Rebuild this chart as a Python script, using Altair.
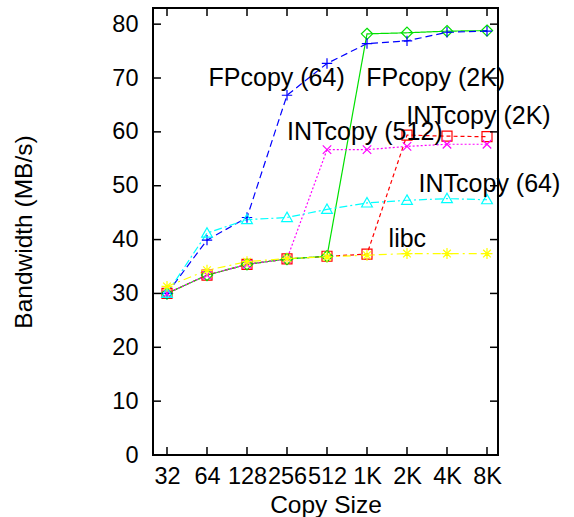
import json
import altair as alt
import pandas as pd

# ---- data ----
sizes = ["32", "64", "128", "256", "512", "1K", "2K", "4K", "8K"]
series = ["INTcopy (2K)", "FPcopy (2K)", "FPcopy (64)", "INTcopy (512)", "INTcopy (64)", "libc"]
int_2k = [30.0, 33.4, 35.4, 36.4, 36.9, 37.3, 59.4, 59.2, 59.1]
fp_2k = [30.0, 33.4, 35.4, 36.4, 36.9, 78.2, 78.4, 78.7, 78.8]
fp_64 = [30.0, 39.9, 44.1, 66.8, 72.7, 76.4, 76.9, 78.5, 78.7]
int_512 = [30.0, 33.4, 35.4, 36.4, 56.7, 56.7, 57.3, 57.7, 57.7]
int_64 = [30.0, 41.2, 43.7, 44.1, 45.6, 46.8, 47.3, 47.6, 47.4]
libc = [31.3, 34.3, 35.9, 36.5, 36.8, 37.1, 37.4, 37.4, 37.4]

label_text = ["FPcopy (64)", "FPcopy (2K)", "INTcopy (2K)", "INTcopy (512)", "INTcopy (64)", "libc"]
label_x = [1.04, 4.98, 5.98, 3.0, 6.29, 5.54]
label_y = [70.0, 70.0, 63.0, 60.0, 50.3, 40.1]

y_ticks = [0, 10, 20, 30, 40, 50, 60, 70, 80]

colors = ["#ff0000", "#00e000", "#0000ff", "#ff00ff", "#00ffff", "#ffff00"]
dashes = [[4, 3], [1, 0], [7, 4], [2, 2], [8, 3, 2, 3], [8, 4, 2, 4]]
shapes = [
    "M-1,-1L1,-1L1,1L-1,1Z",
    "M0,-1.1L1.1,0L0,1.1L-1.1,0Z",
    "M-1,0L1,0M0,-1L0,1",
    "M-0.8,-0.8L0.8,0.8M-0.8,0.8L0.8,-0.8",
    "M0,-1L1,0.75L-1,0.75Z",
    "M-1,0L1,0M0,-1L0,1M-0.7,-0.7L0.7,0.7M-0.7,0.7L0.7,-0.7",
]
marker_sizes = [100, 120, 150, 110, 110, 150]

vals = [int_2k, fp_2k, fp_64, int_512, int_64, libc]
rows = []
for si, (name, v) in enumerate(zip(series, vals)):
    for i, y in enumerate(v):
        rows.append({"series": name, "order": si, "idx": i, "bw": y})
df = pd.DataFrame(rows)

W, H = 345, 447
FONT = "Liberation Sans"

xscale = alt.Scale(domain=[-0.35, 8.275], nice=False, zero=False)
yscale = alt.Scale(domain=[0, 83], nice=False, zero=False)

label_expr = json.dumps(sizes) + "[datum.value]"

x_enc = alt.X(
    "idx:Q", scale=xscale,
    axis=alt.Axis(
        values=list(range(len(sizes))), labelExpr=label_expr, title="Copy Size",
        ticks=False, domain=False, grid=False, labelFont=FONT, labelFontSize=23.5,
        labelColor="black", labelBaseline="alphabetic", labelPadding=28,
        labelFlush=False, labelOverlap=False,
        titleFont=FONT, titleFontSize=24.5, titleFontWeight="normal", titleColor="black",
        titleBaseline="alphabetic", titleY=57,
    ),
)
y_enc = alt.Y(
    "bw:Q", scale=yscale,
    axis=alt.Axis(
        values=y_ticks, title="Bandwidth (MB/s)", ticks=False, domain=False, grid=False,
        labelFont=FONT, labelFontSize=23.5, labelColor="black", labelPadding=15,
        labelFlush=False, labelOverlap=False,
        titleFont=FONT, titleFontSize=24.5, titleFontWeight="normal", titleColor="black",
        titleAngle=270, titleBaseline="bottom", titleX=-117, titleY=H / 2,
    ),
)

color = alt.Color("series:N", scale=alt.Scale(domain=series, range=colors), legend=None)
dash = alt.StrokeDash("series:N", scale=alt.Scale(domain=series, range=dashes), legend=None)
shape = alt.Shape("series:N", scale=alt.Scale(domain=series, range=shapes), legend=None)
msize = alt.Size("series:N", scale=alt.Scale(domain=series, range=marker_sizes), legend=None)

base = alt.Chart(df)
lines = base.mark_line(strokeWidth=1.2).encode(
    x=x_enc, y=y_enc, color=color, strokeDash=dash, detail="series:N", order="idx:Q"
)
points = base.mark_point(filled=False, strokeWidth=1.2, opacity=1).encode(
    x=alt.X("idx:Q", scale=xscale), y=alt.Y("bw:Q", scale=yscale),
    color=color, shape=shape, size=msize,
)

ytick_df = pd.DataFrame({"v": y_ticks})
xtick_df = pd.DataFrame({"i": list(range(len(sizes)))})
tick_style = dict(color="black", strokeWidth=1.5)
ytl = alt.Chart(ytick_df).mark_rule(**tick_style).encode(
    y=alt.Y("v:Q", scale=yscale), x=alt.value(0), x2=alt.value(8))
ytr = alt.Chart(ytick_df).mark_rule(**tick_style).encode(
    y=alt.Y("v:Q", scale=yscale), x=alt.value(W - 8), x2=alt.value(W))
xtb = alt.Chart(xtick_df).mark_rule(**tick_style).encode(
    x=alt.X("i:Q", scale=xscale), y=alt.value(H - 8), y2=alt.value(H))
xtt = alt.Chart(xtick_df).mark_rule(**tick_style).encode(
    x=alt.X("i:Q", scale=xscale), y=alt.value(0), y2=alt.value(8))

lab_df = pd.DataFrame({"t": label_text, "x": label_x, "y": label_y})
labels = alt.Chart(lab_df).mark_text(
    align="left", baseline="middle", font=FONT, fontSize=25, color="black"
).encode(x=alt.X("x:Q", scale=xscale), y=alt.Y("y:Q", scale=yscale), text="t:N")

chart = alt.layer(lines, points, ytl, ytr, xtb, xtt, labels).properties(
    width=W, height=H,
    autosize=alt.AutoSizeParams(type="none"),
    padding={"left": 153, "top": 8, "right": 76, "bottom": 62},
    background="white",
).configure_view(stroke="black", strokeWidth=2)

chart.save("out.html", embed_options={"renderer": "svg", "actions": False})
